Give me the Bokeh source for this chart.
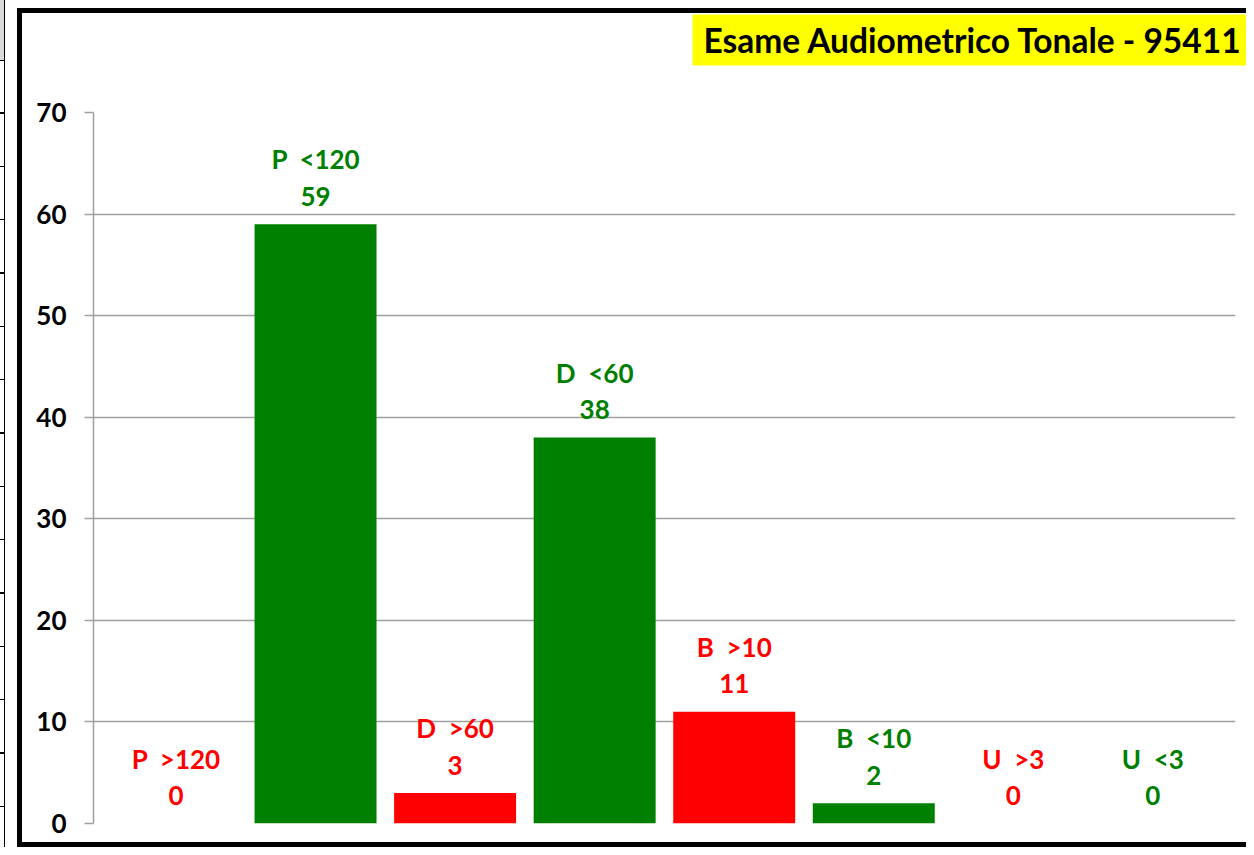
from bokeh.plotting import figure
from bokeh.models import ColumnDataSource, Range1d, SingleIntervalTicker, Title
from bokeh.core.properties import value
from bokeh.embed import file_html
from bokeh.resources import INLINE

# ---- data ----
categories = ["P\u00a0 >120", "P\u00a0 <120", "D\u00a0 >60", "D\u00a0 <60",
              "B\u00a0 >10", "B\u00a0 <10", "U\u00a0 >3", "U\u00a0 <3"]
counts = [0, 59, 3, 38, 11, 2, 0, 0]
bar_colors = ["#ff0000", "#008000", "#ff0000", "#008000", "#ff0000", "#008000", "#ff0000", "#008000"]
title_text = "Esame Audiometrico Tonale - 95411"

FONT = "Lato"

src = ColumnDataSource(dict(
    x=list(range(len(categories))),
    name=categories,
    val=counts,
    vtxt=[str(v) for v in counts],
    color=bar_colors,
))

# page decoration (outer black frame + fragment of neighbouring sheet) drawn as CSS background
deco = ", ".join([
    "linear-gradient(#000,#000) 17px 8px / 5px 839px no-repeat",
    "linear-gradient(#000,#000) 17px 8px / 1300px 5px no-repeat",
    "linear-gradient(#000,#000) 17px 842px / 1300px 5px no-repeat",
    "linear-gradient(#d9d9d9,#d9d9d9) 0 0 / 4px 60px no-repeat",
    "linear-gradient(#000,#000) 4px 0 / 1px 847px no-repeat",
    "repeating-linear-gradient(to bottom, #000 0 1.5px, transparent 1.5px 53.33px) 0 59px / 4px 790px no-repeat",
    "#ffffff",
])

p = figure(width=1246, height=847, output_backend="svg", toolbar_location=None,
           x_range=Range1d(-0.591, 7.592), y_range=Range1d(0, 70),
           min_border_left=93, min_border_right=11, min_border_top=112, min_border_bottom=24,
           styles={"background": deco})
p.background_fill_color = "white"
p.border_fill_color = None
p.outline_line_color = None

p.vbar(x="x", top="val", width=0.874, fill_color="color", line_color=None, source=src)

p.text(x="x", y="val", text="name", source=src, text_color="color",
       text_font=value(FONT), text_font_style="bold", text_font_size="26px",
       text_align="center", text_baseline="middle", y_offset=-65)
p.text(x="x", y="val", text="vtxt", source=src, text_color="color",
       text_font=value(FONT), text_font_style="bold", text_font_size="26px",
       text_align="center", text_baseline="middle", y_offset=-28)

p.xaxis.visible = False
p.xgrid.visible = False

yax = p.yaxis[0]
yax.ticker = SingleIntervalTicker(interval=10)
yax.axis_line_color = "#a0a0a0"
yax.axis_line_width = 1.5
yax.major_tick_line_color = "#a0a0a0"
yax.major_tick_line_width = 1.5
yax.major_tick_out = 9
yax.major_tick_in = 0
yax.minor_tick_line_color = None
yax.major_label_standoff = 18
yax.major_label_text_font = FONT
yax.major_label_text_font_style = "bold"
yax.major_label_text_font_size = "26px"
yax.major_label_text_color = "black"

p.ygrid.grid_line_color = "#a0a0a0"
p.ygrid.grid_line_width = 1.5

# title in a yellow box
t = p.title
t.text = title_text
t.text_font = FONT
t.text_font_style = "bold"
t.text_font_size = "33.5px"
t.text_color = "black"
t.background_fill_color = "#ffff00"
t.align = "left"
t.offset = 599
t.vertical_align = "bottom"
t.standoff = 0
try:
    t.padding = dict(left=11, right=12, top=5, bottom=6)
except Exception:
    t.padding = 5

# spacer between the title box and the plot area
p.add_layout(Title(text=" ", text_font_size="10px", standoff=34), "above")

open("out.html", "w").write(file_html(p, INLINE))
